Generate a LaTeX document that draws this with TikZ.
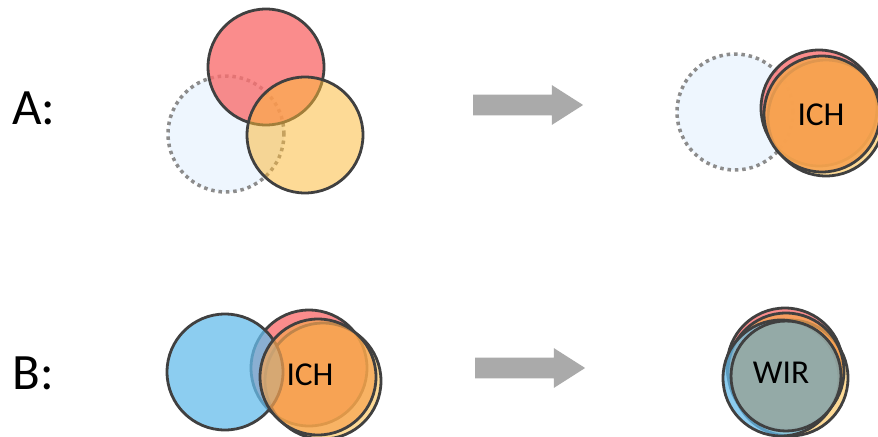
\documentclass[tikz,border=0pt]{standalone}
\usepackage{fontspec}
\setmainfont{Carlito}
\usetikzlibrary{positioning}
\usetikzlibrary{shapes.arrows}

\definecolor{rosered}{RGB}{249,111,111}
\definecolor{sunyellow}{RGB}{252,184,54}
\definecolor{ichorange}{RGB}{247,163,80}
\definecolor{paleblue}{RGB}{238,246,254}
\definecolor{skyblue}{RGB}{102,188,235}
\definecolor{wirgray}{RGB}{150,170,165}
\definecolor{arrowgray}{RGB}{170,170,170}

\begin{document}
\begin{tikzpicture}[x=0.02cm,y=-0.02cm]

        \tikzstyle{bubble} = [circle, minimum size=2.32cm, inner sep=0pt, draw=black!75, line width=1.6pt]
        \tikzstyle{ghost}  = [circle, minimum size=2.32cm, inner sep=0pt, draw=black!45, line width=2pt,
            dash pattern=on 2pt off 2.2pt, fill=paleblue]
        \tikzstyle{bigarrow} = [single arrow, fill=arrowgray, minimum height=2.2cm, inner xsep=0pt,
            inner ysep=0.2cm, single arrow head extend=0.19cm, single arrow tip angle=65]
        \tikzstyle{tag}  = [inner sep=0pt, anchor=west, font=\fontsize{29}{34}\selectfont]
        \tikzstyle{word} = [inner sep=0pt, font=\fontsize{19}{22}\selectfont]

        \useasboundingbox (0,0) rectangle (878,436);

        % row A, before
        \node[tag]                                              (labA)     at (12,108)  {A:};
        \node[ghost]                                            (ghostA)   at (226,134) {};
        \node[bubble, fill=rosered, fill opacity=0.8]           (redA)     at (266,67)  {};
        \node[bubble, fill=sunyellow, fill opacity=0.52]        (yellowA)  at (305,135) {};
        \node[bigarrow]                                         (arrowA)   at (520,105) {};

        % row A, after
        \node[ghost]                                            (ghostA2)  at (735,112) {};
        \node[bubble, fill=rosered, fill opacity=0.8]           (redA2)    at (819,108) {};
        \node[bubble, fill=sunyellow, fill opacity=0.52]        (yellowA2) at (826,118) {};
        \node[bubble, fill=ichorange, fill opacity=0.88]        (ichA)     at (822,114) {};
        \node[word]                                             (ichtxtA)  at (821,115) {ICH};

        % row B, before
        \node[tag]                                              (labB)     at (12,373)  {B:};
        \node[bubble, fill=rosered, fill opacity=0.8]           (redB)     at (309,368) {};
        \node[bubble, fill=sunyellow, fill opacity=0.52]        (yellowB)  at (323,381) {};
        \node[bubble, fill=skyblue, fill opacity=0.75]          (blueB)    at (225,372) {};
        \node[bubble, fill=ichorange, fill opacity=0.7]         (ichB)     at (318,377) {};
        \node[word]                                             (ichtxtB)  at (310,375) {ICH};
        \node[bigarrow]                                         (arrowB)   at (522,368) {};

        % row B, after
        \node[bubble, fill=rosered, fill opacity=0.8]           (redB2)    at (785,366) {};
        \node[bubble, fill=sunyellow, fill opacity=0.52]        (yellowB2) at (790,378) {};
        \node[bubble, fill=ichorange, fill opacity=0.75]        (ichB2)    at (786,371) {};
        \node[bubble, fill=skyblue, fill opacity=0.75]          (blueB2)   at (781,378) {};
        \node[bubble, fill=wirgray, fill opacity=0.92,
              minimum size=2.2cm]                               (wirB)     at (786,376) {};
        \node[word]                                             (wirtxt)   at (781,373) {WIR};

\end{tikzpicture}
\end{document}
